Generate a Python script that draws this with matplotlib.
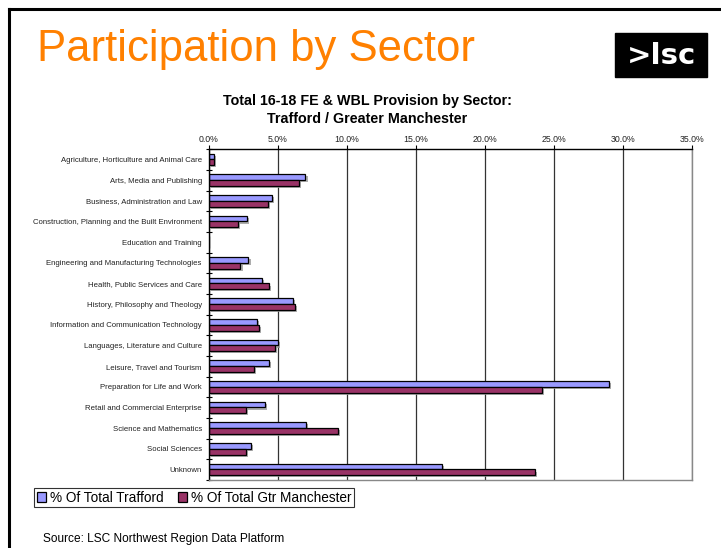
import numpy as np
import matplotlib.pyplot as plt
import matplotlib.patheffects as pe
from matplotlib.lines import Line2D
from matplotlib.patches import Rectangle

plt.rcParams['font.family'] = ['Liberation Sans', 'DejaVu Sans']

sectores = ["Agriculture, Horticulture and Animal Care",
            "Arts, Media and Publishing",
            "Business, Administration and Law",
            "Construction, Planning and the Built Environment",
            "Education and Training",
            "Engineering and Manufacturing Technologies",
            "Health, Public Services and Care",
            "History, Philosophy and Theology",
            "Information and Communication Technology",
            "Languages, Literature and Culture",
            "Leisure, Travel and Tourism",
            "Preparation for Life and Work",
            "Retail and Commercial Enterprise",
            "Science and Mathematics",
            "Social Sciences",
            "Unknown"]

trafford = [0.35, 7.0, 4.55, 2.76, 0.0, 2.88, 3.83, 6.12, 3.46, 4.98, 4.38, 28.98, 4.04, 7.04, 3.08, 16.86]
gtr_manchester = [0.35, 6.55, 4.28, 2.14, 0.0, 2.30, 4.38, 6.24, 3.66, 4.77, 3.27, 24.13, 2.69, 9.35, 2.72, 23.62]

xticks = [0, 5, 10, 15, 20, 25, 30, 35]

fig = plt.figure(figsize=(7.21, 5.48), dpi=100)
W, H = 721, 548

# marco negro de la diapositiva
fig.add_artist(Line2D([9/W, 9/W], [0, 1 - 9/H], color='black', lw=2.2, transform=fig.transFigure))
fig.add_artist(Line2D([9/W, 1], [1 - 9/H, 1 - 9/H], color='black', lw=2.2, transform=fig.transFigure))

fig.text(37/W, 1 - 61/H, "Participation by Sector", color='#FF8000', fontsize=31.5,
         va='baseline', ha='left')

# logo
fig.add_artist(Rectangle((615/W, 1 - 77/H), 92/W, 44/H, color='black', transform=fig.transFigure))
fig.text(662/W, 1 - 56/H, ">lsc", color='white', fontsize=21, fontweight='bold',
         ha='center', va='center', family=['DejaVu Sans'])

fig.text(367/W, 1 - 101/H, "Total 16-18 FE & WBL Provision by Sector:", fontsize=10.3,
         fontweight='bold', ha='center', va='center')
fig.text(367/W, 1 - 119/H, "Trafford / Greater Manchester", fontsize=10.3,
         fontweight='bold', ha='center', va='center')

ax = fig.add_axes([208.7/W, 1 - 480/H, (692.3 - 208.7)/W, (480 - 149.3)/H])

y = np.arange(len(sectores))
h = 0.28
sombra = [pe.SimplePatchShadow(offset=(1.5, -1.5), shadow_rgbFace='#999999', alpha=0.8), pe.Normal()]
b1 = ax.barh(y - h/2 - 0.01, trafford, height=h, color='#9999FF', edgecolor='black', lw=0.9,
             label="% Of Total Trafford")
b2 = ax.barh(y + h/2 - 0.01, gtr_manchester, height=h, color='#993366', edgecolor='black', lw=0.9,
             label="% Of Total Gtr Manchester")
for b in list(b1) + list(b2):
    if b.get_width() > 0:
        b.set_path_effects(sombra)

ax.set_xlim(0, 35)
ax.set_ylim(len(sectores) - 0.5, -0.5)
ax.set_xticks(xticks)
ax.set_xticklabels(["%.1f%%" % v for v in xticks], fontsize=6.3, color='#222222')
ax.xaxis.tick_top()
ax.tick_params(axis='x', length=3, width=0.8, pad=1)
ax.grid(axis='x', color='#333333', lw=0.9)
ax.set_axisbelow(True)

ax.set_yticks(y)
ax.set_yticklabels(sectores, fontsize=5.6, color='#222222')
ax.tick_params(axis='y', which='major', length=0, pad=5)
ax.set_yticks(np.arange(len(sectores) + 1) - 0.5, minor=True)
ax.tick_params(axis='y', which='minor', length=4, direction='inout', width=0.8)

ax.spines['left'].set_color('black')
ax.spines['top'].set_color('black')
ax.spines['right'].set_color('#888888')
ax.spines['bottom'].set_color('#888888')
for s in ax.spines.values():
    s.set_linewidth(1.0)

leg = fig.legend(handles=[b1, b2], loc='upper left', bbox_to_anchor=(34/W, 1 - 488/H),
                 ncol=2, fontsize=9.8, frameon=True, fancybox=False, edgecolor='black',
                 handlelength=0.7, handleheight=0.7, handletextpad=0.3, columnspacing=1.0,
                 borderpad=0.2, borderaxespad=0)
leg.get_frame().set_linewidth(0.8)
for hnd in leg.legend_handles:
    hnd.set_path_effects([])

fig.text(43/W, 1 - 539/H, "Source: LSC Northwest Region Data Platform", fontsize=8.6,
         ha='left', va='center')

plt.savefig("out.png", dpi=100)
